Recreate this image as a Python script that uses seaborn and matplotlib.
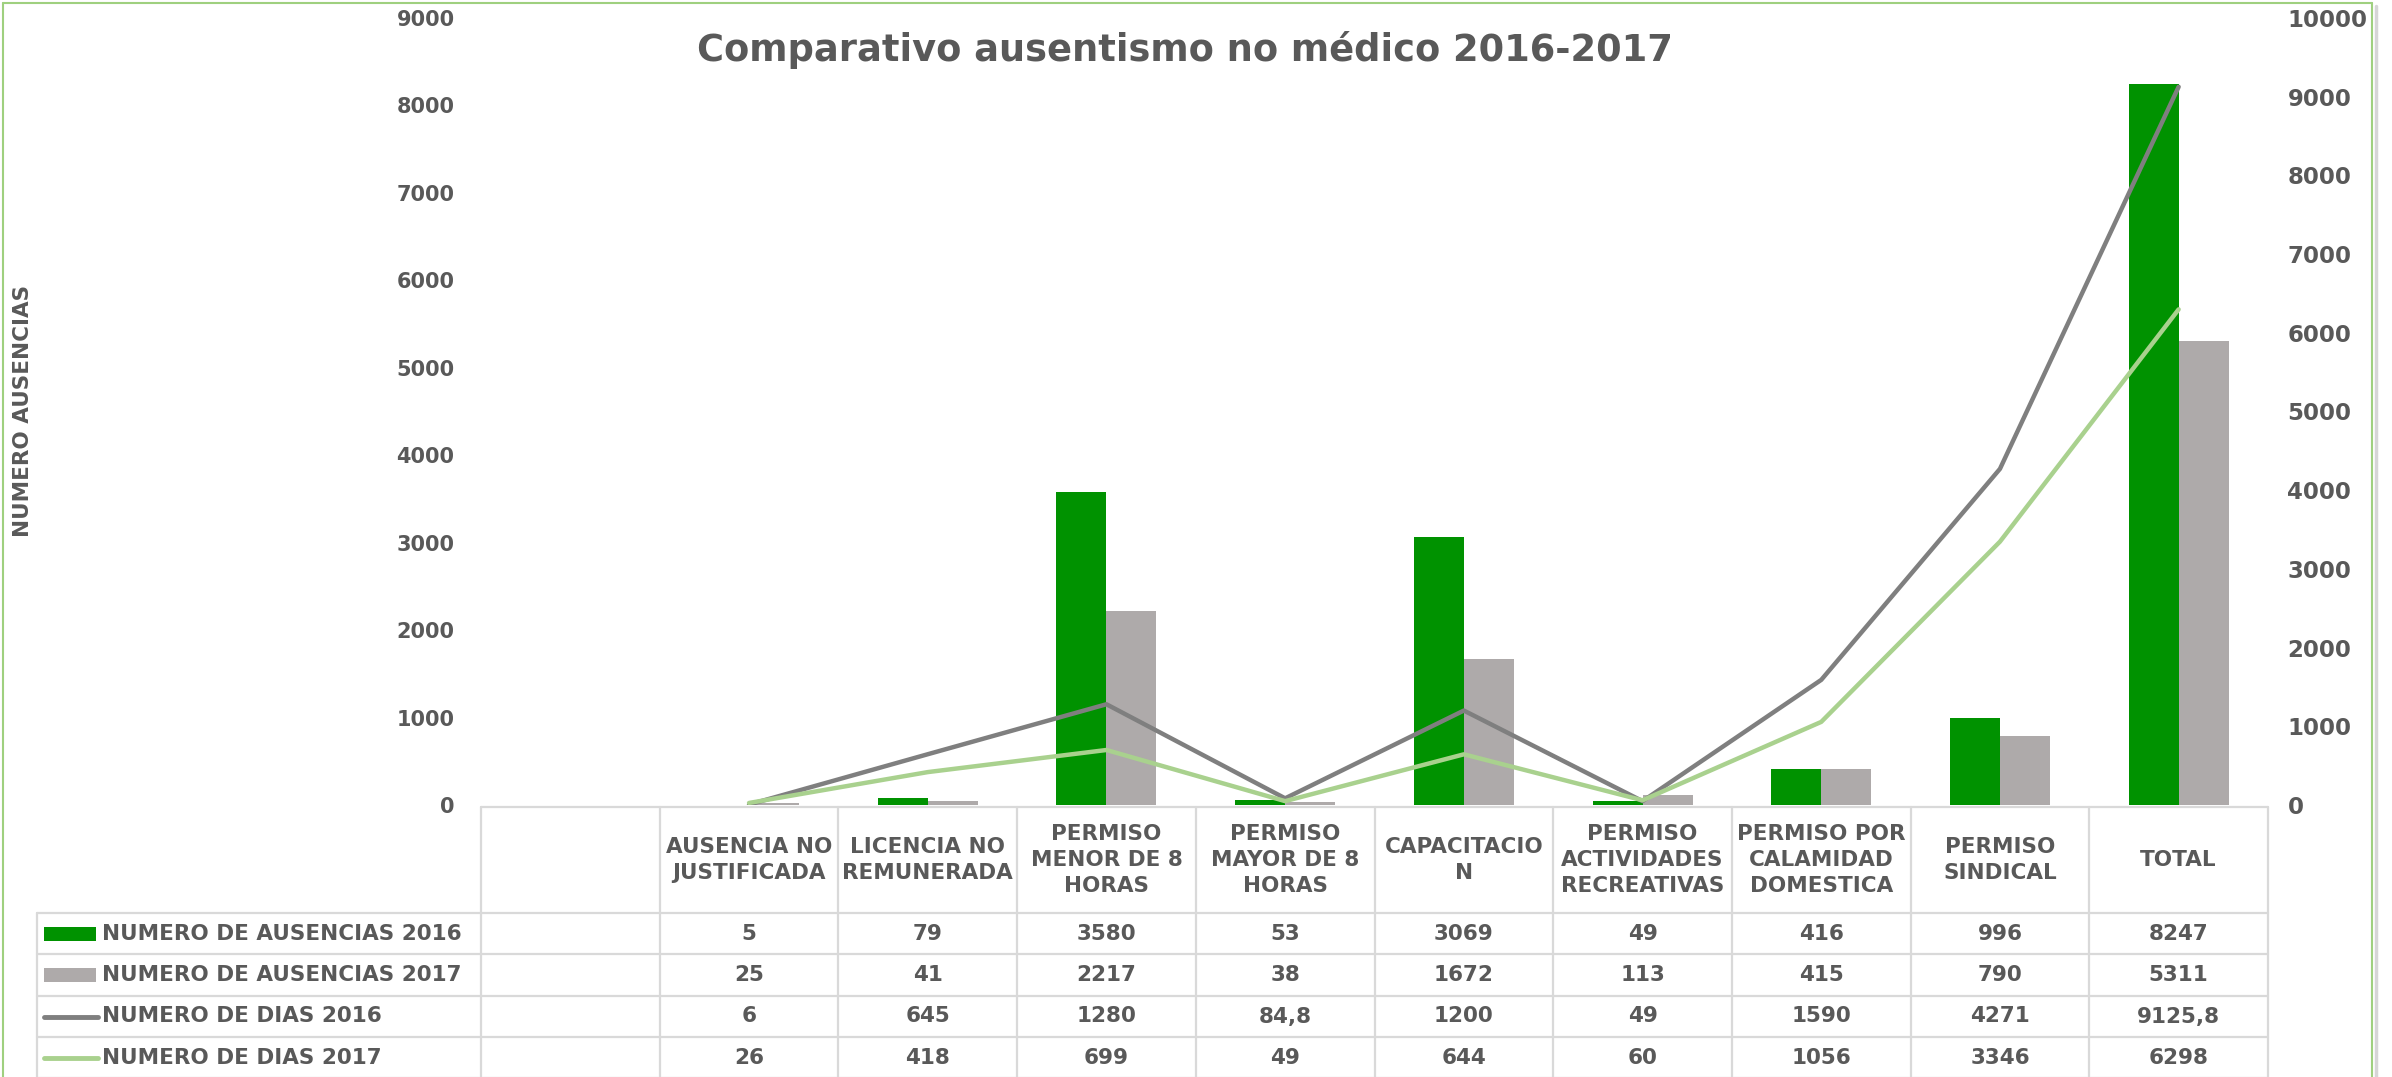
import numpy as np
import pandas as pd
import matplotlib
matplotlib.use("Agg")
import matplotlib.pyplot as plt
from matplotlib.lines import Line2D
from matplotlib.patches import Rectangle
import seaborn as sns

# ---- data ----
categorias = [
    "AUSENCIA NO\nJUSTIFICADA",
    "LICENCIA NO\nREMUNERADA",
    "PERMISO\nMENOR DE 8\nHORAS",
    "PERMISO\nMAYOR DE 8\nHORAS",
    "CAPACITACIO\nN",
    "PERMISO\nACTIVIDADES\nRECREATIVAS",
    "PERMISO POR\nCALAMIDAD\nDOMESTICA",
    "PERMISO\nSINDICAL",
    "TOTAL",
]
ausencias_2016 = [5, 79, 3580, 53, 3069, 49, 416, 996, 8247]
ausencias_2017 = [25, 41, 2217, 38, 1672, 113, 415, 790, 5311]
dias_2016 = [6, 645, 1280, 84.8, 1200, 49, 1590, 4271, 9125.8]
dias_2017 = [26, 418, 699, 49, 644, 60, 1056, 3346, 6298]
series = [
    "NUMERO DE AUSENCIAS 2016",
    "NUMERO DE AUSENCIAS 2017",
    "NUMERO DE DIAS 2016",
    "NUMERO DE DIAS 2017",
]
ticks_izq = list(range(0, 9001, 1000))
ticks_der = list(range(0, 10001, 1000))
titulo = "Comparativo ausentismo no médico 2016-2017"
etiqueta_y = "NUMERO AUSENCIAS"

# ---- style ----
VERDE = "#009200"
GRIS_BARRA = "#aeaaaa"
GRIS_LINEA = "#7f7f7f"
VERDE_CLARO = "#a9d18e"
TEXTO = "#595959"
REJILLA = "#d9d9d9"

sns.set_theme(style="white")
plt.rcParams["font.family"] = ["DejaVu Sans"]
plt.rcParams["font.weight"] = "bold"

W, H = 2392, 1077
fig = plt.figure(figsize=(W / 100, H / 100), dpi=100)
fig.patch.set_facecolor("white")


def fx(px):
    return px / W


def fy(py):
    return 1 - py / H


# plot area
PL, PR, PT, PB = 481, 2268, 18, 805
ax = fig.add_axes([fx(PL), fy(PB), fx(PR - PL), (PB - PT) / H])

df = pd.DataFrame({
    "categoria": categorias * 2,
    "serie": [series[0]] * len(categorias) + [series[1]] * len(categorias),
    "valor": ausencias_2016 + ausencias_2017,
})
sns.barplot(data=df, x="categoria", y="valor", hue="serie", order=categorias,
            hue_order=series[:2], palette=[VERDE, GRIS_BARRA], width=0.56,
            gap=0, saturation=1, legend=False, ax=ax, errorbar=None,
            linewidth=0)
ax.set_xlim(-1.5, len(categorias) - 0.5)
ax.set_ylim(0, 9000)
ax.set_yticks(ticks_izq)
ax.set_xticks([])
ax.set_xlabel("")
ax.set_ylabel("")
for s in ax.spines.values():
    s.set_visible(False)
ax.tick_params(axis="y", length=0, pad=19, labelsize=15, labelcolor=TEXTO)
for t in ax.get_yticklabels():
    t.set_fontweight("bold")

ax2 = ax.twinx()
pos = np.arange(len(categorias))
sns.lineplot(x=pos, y=dias_2016, color=GRIS_LINEA, linewidth=3.2, ax=ax2)
sns.lineplot(x=pos, y=dias_2017, color=VERDE_CLARO, linewidth=3.2, ax=ax2)
ax2.set_ylim(0, 10000)
ax2.set_yticks(ticks_der)
ax2.set_ylabel("")
for s in ax2.spines.values():
    s.set_visible(False)
ax2.tick_params(axis="y", length=0, pad=14, labelsize=16.5, labelcolor=TEXTO)
for t in ax2.get_yticklabels():
    t.set_fontweight("bold")
ax.set_xlim(-1.5, len(categorias) - 0.5)

# title and axis label
fig.text(fx(1185), fy(50), titulo, ha="center", va="center", fontsize=26.5,
         fontweight="bold", color=TEXTO)
fig.text(fx(23), fy(411), etiqueta_y, ha="center", va="center", rotation=90,
         fontsize=15.5, fontweight="bold", color=TEXTO)

# ---- data table ----
def col_x(v):
    return ax.transData.transform((v, 0))[0]


centros = [col_x(i) for i in range(len(categorias))]
bordes = [col_x(i - 0.5) for i in range(len(categorias) + 1)]

TOP_HDR, BOT_HDR = 807, 913
filas = [913, 954, 996, 1037, 1078]
LEFT_TBL = 37


def hline(y, x0, x1):
    fig.add_artist(Line2D([fx(x0), fx(x1)], [fy(y), fy(y)], color=REJILLA, lw=1.6))


def vline(x, y0, y1):
    fig.add_artist(Line2D([fx(x), fx(x)], [fy(y0), fy(y1)], color=REJILLA, lw=1.6))


hline(TOP_HDR, PL, PR)
for y in filas:
    hline(y, LEFT_TBL, PR)
vline(LEFT_TBL, filas[0], filas[-1])
vline(PL, TOP_HDR, filas[-1])
for b in bordes:
    vline(b, TOP_HDR, filas[-1])

FS = 15.5
for c, cat in zip(centros, categorias):
    fig.text(fx(c), fy((TOP_HDR + BOT_HDR) / 2), cat, ha="center", va="center",
             fontsize=FS, fontweight="bold", color=TEXTO, linespacing=1.35,
             multialignment="center")


def fmt(v):
    if float(v).is_integer():
        return str(int(v))
    return str(v).replace(".", ",")


valores = [ausencias_2016, ausencias_2017, dias_2016, dias_2017]
for r, (nombre, vals) in enumerate(zip(series, valores)):
    y0, y1 = filas[r], filas[r + 1]
    yc = (y0 + y1) / 2
    if r < 2:
        color = [VERDE, GRIS_BARRA][r]
        fig.add_artist(Rectangle((fx(44), fy(yc + 7)), fx(52), 14 / H,
                                 facecolor=color, edgecolor="none"))
    else:
        color = [GRIS_LINEA, VERDE_CLARO][r - 2]
        fig.add_artist(Line2D([fx(44), fx(98)], [fy(yc), fy(yc)], color=color,
                              lw=3.5, solid_capstyle="round"))
    fig.text(fx(102), fy(yc), nombre, ha="left", va="center", fontsize=FS,
             fontweight="bold", color=TEXTO)
    for c, v in zip(centros, vals):
        fig.text(fx(c), fy(yc), fmt(v), ha="center", va="center", fontsize=FS,
                 fontweight="bold", color=TEXTO)

# chart border
BORDE = "#9fd07f"
fig.add_artist(Line2D([fx(3), fx(3)], [fy(3), fy(H + 5)], color=BORDE, lw=1.5))
fig.add_artist(Line2D([fx(3), fx(2372)], [fy(3), fy(3)], color=BORDE, lw=1.5))
fig.add_artist(Line2D([fx(2372), fx(2372)], [fy(3), fy(H + 5)], color=BORDE, lw=1.5))
fig.add_artist(Line2D([fx(2376), fx(2376)], [fy(6), fy(H + 5)], color="#d6d6d6", lw=2.5))

fig.savefig("out.png", dpi=100, facecolor="white")
